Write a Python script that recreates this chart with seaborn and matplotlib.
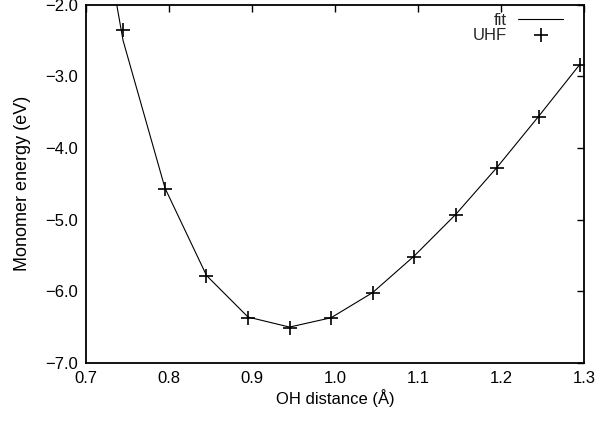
import matplotlib
matplotlib.use("Agg")
import matplotlib.pyplot as plt
import seaborn as sns
import pandas as pd
from matplotlib.ticker import FuncFormatter

font_size = 12

sns.set_theme(style="white")
plt.rcParams["font.family"] = ["Liberation Sans", "DejaVu Sans"]

# UHF monomer energies
uhf_x = [0.745, 0.795, 0.845, 0.895, 0.945, 0.995, 1.045, 1.095, 1.145, 1.195, 1.245, 1.295]
uhf_y = [-2.35, -4.58, -5.79, -6.37, -6.51, -6.37, -6.02, -5.52, -4.93, -4.28, -3.57, -2.84]

# sampled fit curve
fit_x = [0.730, 0.7445, 0.795, 0.845, 0.895, 0.945, 0.995, 1.045, 1.095, 1.145, 1.195, 1.245, 1.295]
fit_y = [-1.55, -2.50, -4.56, -5.78, -6.36, -6.50, -6.37, -6.02, -5.51, -4.93, -4.27, -3.56, -2.83]

df_uhf = pd.DataFrame({"x": uhf_x, "y": uhf_y})
df_fit = pd.DataFrame({"x": fit_x, "y": fit_y})


def one_dec(v, pos):
    return ("%.1f" % v).replace("-", "\u2212")


fig, ax = plt.subplots(figsize=(5.98, 4.21), dpi=100)
fig.subplots_adjust(left=0.144, right=0.977, top=0.989, bottom=0.138)

sns.lineplot(data=df_fit, x="x", y="y", color="black", linewidth=0.8,
             label="fit", ax=ax, sort=False)
sns.scatterplot(data=df_uhf, x="x", y="y", marker="+", s=110, color="black",
                linewidth=1.2, label="UHF", ax=ax, zorder=3)

ax.set_xlim(0.7, 1.3)
ax.set_ylim(-7.0, -2.0)
ax.set_xticks([0.7, 0.8, 0.9, 1.0, 1.1, 1.2, 1.3])
ax.set_yticks([-7.0, -6.0, -5.0, -4.0, -3.0, -2.0])
ax.xaxis.set_major_formatter(FuncFormatter(one_dec))
ax.yaxis.set_major_formatter(FuncFormatter(one_dec))
ax.tick_params(direction="in", length=5, width=1, top=True, right=True,
               labelsize=font_size, colors="black", pad=6)
for s in ax.spines.values():
    s.set_color("black")
    s.set_linewidth(1.3)

ax.set_xlabel("OH distance (Å)", fontsize=font_size, color="black", labelpad=2)
ax.set_ylabel("Monomer energy (eV)", fontsize=13, color="black", labelpad=10)

ax.legend(loc="upper right", bbox_to_anchor=(0.965, 0.987), frameon=False,
          markerfirst=False, fontsize=font_size,
          handlelength=2.7, handletextpad=0.7, labelspacing=0.0,
          borderaxespad=0.0, borderpad=0.2)

fig.savefig("out.png", dpi=100)
